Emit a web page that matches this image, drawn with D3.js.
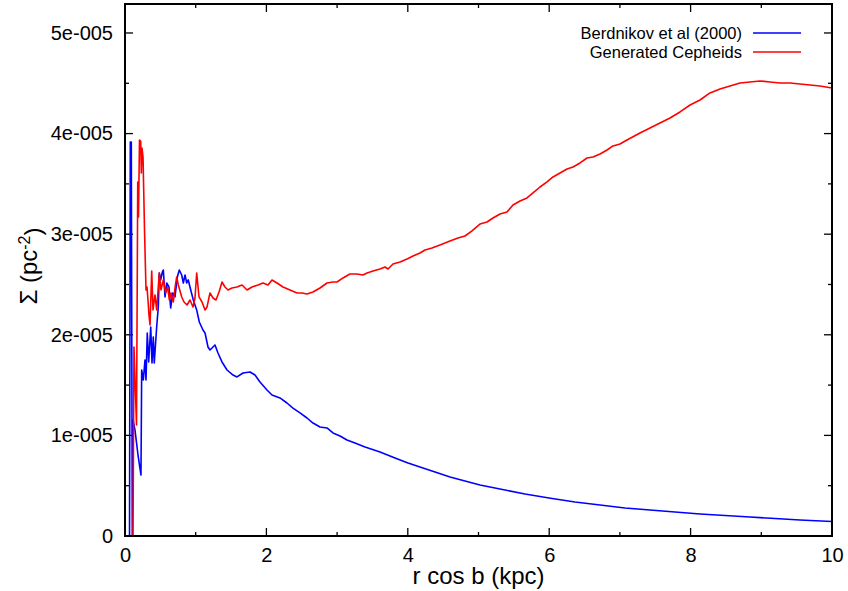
<!DOCTYPE html>
<html>
<head>
<meta charset="utf-8">
<script src="https://cdn.jsdelivr.net/npm/d3@7"></script>
<style>
    body { margin: 0; background: #fff; }
    text { font-family: "Liberation Sans", Arial, sans-serif; fill: #000; }
</style>
</head>
<body>
<div id="chart-area"></div>
<script>

// surface density values are in units of 1e-5 pc^-2
var yUnit = 1e-5;

var berdnikovX = [0.064, 0.075, 0.089, 0.103, 0.113, 0.141, 0.184, 0.226, 0.236, 0.259, 0.283, 0.297, 0.315, 0.335,
    0.364, 0.382, 0.400, 0.414, 0.448, 0.471, 0.485, 0.505, 0.528, 0.542, 0.566, 0.590, 0.622, 0.646, 0.675, 0.707,
    0.740, 0.768, 0.802, 0.825, 0.849, 0.873, 0.895, 0.919, 0.966, 1.014, 1.051, 1.103, 1.132, 1.174, 1.202, 1.231,
    1.273, 1.315, 1.372, 1.443, 1.528, 1.584, 1.669, 1.768, 1.839, 1.909, 2.008, 2.079, 2.192, 2.291, 2.376, 2.475,
    2.574, 2.659, 2.758, 2.857, 2.942, 3.041, 3.140, 3.253, 3.395, 3.607, 3.819, 4.003, 4.172, 4.385, 4.597, 4.809,
    5.021, 5.304, 5.658, 5.997, 6.365, 6.719, 7.072, 7.426, 7.779, 8.133, 8.487, 8.840, 9.194, 9.547, 10.0];
var berdnikovY = [0, 3.917, 3.917, 0, 1.153, 1.054, 0.805, 0.606, 1.650, 1.551, 1.750, 1.551, 2.018, 1.730,
    2.078, 1.720, 1.978, 1.720, 2.078, 2.276, 2.614, 2.545, 2.624, 2.644, 2.376, 2.515, 2.475, 2.266, 2.416, 2.376,
    2.575, 2.644, 2.594, 2.515, 2.594, 2.515, 2.545, 2.475, 2.346, 2.247, 2.127, 2.048, 2.018, 1.879, 1.849, 1.869,
    1.899, 1.819, 1.730, 1.650, 1.600, 1.581, 1.620, 1.630, 1.600, 1.531, 1.451, 1.402, 1.372, 1.322, 1.272, 1.223,
    1.173, 1.123, 1.084, 1.074, 1.024, 0.994, 0.954, 0.924, 0.885, 0.835, 0.775, 0.726, 0.686, 0.636, 0.586, 0.547,
    0.507, 0.467, 0.417, 0.378, 0.338, 0.308, 0.278, 0.258, 0.239, 0.219, 0.204, 0.189, 0.174, 0.159, 0.144];

var generatedX = [0.113, 0.127, 0.163, 0.180, 0.191, 0.205, 0.222, 0.231, 0.240, 0.255, 0.276, 0.297, 0.311, 0.325,
    0.339, 0.354, 0.378, 0.396, 0.424, 0.448, 0.485, 0.509, 0.542, 0.576, 0.604, 0.627, 0.651, 0.683, 0.707, 0.731,
    0.754, 0.802, 0.835, 0.877, 0.919, 0.962, 0.990, 1.014, 1.047, 1.089, 1.132, 1.160, 1.202, 1.245, 1.287, 1.330,
    1.372, 1.414, 1.457, 1.513, 1.584, 1.655, 1.726, 1.796, 1.881, 1.952, 2.023, 2.079, 2.150, 2.235, 2.334, 2.433,
    2.504, 2.574, 2.659, 2.758, 2.857, 2.942, 2.999, 3.083, 3.182, 3.281, 3.366, 3.423, 3.508, 3.607, 3.678, 3.720,
    3.791, 3.890, 3.989, 4.074, 4.172, 4.243, 4.342, 4.455, 4.597, 4.710, 4.809, 4.908, 5.021, 5.120, 5.205, 5.304,
    5.403, 5.488, 5.587, 5.686, 5.771, 5.870, 5.969, 6.054, 6.153, 6.252, 6.337, 6.436, 6.535, 6.620, 6.719, 6.818,
    6.902, 7.001, 7.100, 7.284, 7.426, 7.567, 7.709, 7.850, 7.992, 8.133, 8.274, 8.416, 8.557, 8.699, 8.840, 8.982,
    9.123, 9.265, 9.406, 9.547, 9.689, 9.830, 10.0];
var generatedY = [0, 1.879, 1.103, 3.519, 3.171, 3.936, 3.926, 3.608, 3.857, 3.767, 3.042, 2.445, 2.475, 2.346,
    2.197, 2.097, 2.634, 2.247, 2.396, 2.247, 2.614, 2.445, 2.545, 2.416, 2.475, 2.346, 2.416, 2.326, 2.465, 2.575,
    2.495, 2.376, 2.326, 2.296, 2.346, 2.276, 2.366, 2.614, 2.376, 2.326, 2.247, 2.276, 2.416, 2.366, 2.346, 2.425,
    2.525, 2.475, 2.445, 2.465, 2.475, 2.495, 2.445, 2.475, 2.495, 2.515, 2.495, 2.545, 2.515, 2.475, 2.445, 2.416,
    2.416, 2.406, 2.425, 2.465, 2.515, 2.525, 2.525, 2.565, 2.604, 2.604, 2.594, 2.614, 2.634, 2.654, 2.674, 2.654,
    2.704, 2.724, 2.753, 2.783, 2.813, 2.843, 2.863, 2.893, 2.932, 2.962, 2.982, 3.032, 3.101, 3.121, 3.161, 3.201,
    3.221, 3.290, 3.330, 3.360, 3.410, 3.469, 3.519, 3.569, 3.608, 3.648, 3.668, 3.708, 3.757, 3.767, 3.797, 3.837,
    3.877, 3.897, 3.936, 4.006, 4.056, 4.105, 4.155, 4.215, 4.284, 4.334, 4.404, 4.443, 4.473, 4.503, 4.513, 4.523,
    4.513, 4.503, 4.503, 4.493, 4.483, 4.473, 4.453];

var xTicks = [0, 2, 4, 6, 8, 10];
var xTickLabels = ["0", "2", "4", "6", "8", "10"];
var xMinorTicks = [1, 3, 5, 7, 9];
var yTicks = [0, 1e-5, 2e-5, 3e-5, 4e-5, 5e-5];
var yTickLabels = ["0", "1e-005", "2e-005", "3e-005", "4e-005", "5e-005"];
var yMinorTicks = [0.5e-5, 1.5e-5, 2.5e-5, 3.5e-5, 4.5e-5];

var seriesNames = ["Berdnikov et al (2000)", "Generated Cepheids"];
var seriesColors = ["#0000ff", "#ff0000"];

var margin = {top: 4, right: 16, bottom: 55, left: 125};
var width = 848 - margin.left - margin.right;
var height = 591 - margin.top - margin.bottom;

var svg = d3.select("#chart-area").append("svg")
    .attr("width", 848)
    .attr("height", 591)
    .append("g")
    .attr("transform", "translate(" + margin.left + "," + margin.top + ")");

var x = d3.scaleLinear().domain([0, 10]).range([0, width]);
var y = d3.scaleLinear().domain([0, 5.288e-5]).range([height, 0]);

svg.append("clipPath").attr("id", "clip")
    .append("rect").attr("width", width).attr("height", height);

// ticks point inwards on all four sides
function tickMarks(vals, len) {
    var g = svg.append("g").attr("stroke", "#000").attr("stroke-width", 1.3);
    vals.forEach(function(v) {
        g.append("line").attr("x1", x(v)).attr("x2", x(v)).attr("y1", height).attr("y2", height - len);
        g.append("line").attr("x1", x(v)).attr("x2", x(v)).attr("y1", 0).attr("y2", len);
    });
}
function yTickMarks(vals, len) {
    var g = svg.append("g").attr("stroke", "#000").attr("stroke-width", 1.3);
    vals.forEach(function(v) {
        g.append("line").attr("y1", y(v)).attr("y2", y(v)).attr("x1", 0).attr("x2", len);
        g.append("line").attr("y1", y(v)).attr("y2", y(v)).attr("x1", width).attr("x2", width - len);
    });
}
tickMarks(xTicks, 8);
tickMarks(xMinorTicks, 4);
yTickMarks(yTicks, 8);
yTickMarks(yMinorTicks, 4);

var xAxis = d3.axisBottom(x).tickValues(xTicks).tickSize(0).tickPadding(12)
    .tickFormat(function(d, i) { return xTickLabels[i]; });
svg.append("g").attr("class", "x-axis")
    .attr("transform", "translate(0," + height + ")")
    .call(xAxis)
    .call(function(g) { g.select(".domain").remove(); })
    .selectAll("text").style("font-size", "20px").style("font-family", "Liberation Sans");

var yAxis = d3.axisLeft(y).tickValues(yTicks).tickSize(0).tickPadding(12)
    .tickFormat(function(d, i) { return yTickLabels[i]; });
svg.append("g").attr("class", "y-axis")
    .call(yAxis)
    .call(function(g) { g.select(".domain").remove(); })
    .selectAll("text").style("font-size", "20px").style("font-family", "Liberation Sans");

var line = d3.line()
    .x(function(d) { return x(d[0]); })
    .y(function(d) { return y(d[1] * yUnit); });

var series = [
    d3.zip(berdnikovX, berdnikovY),
    d3.zip(generatedX, generatedY)
];

svg.append("g").attr("clip-path", "url(#clip)")
    .selectAll("path.curve")
    .data(series)
    .enter().append("path")
    .attr("class", "curve")
    .attr("fill", "none")
    .attr("stroke", function(d, i) { return seriesColors[i]; })
    .attr("stroke-width", 1.6)
    .attr("stroke-linejoin", "round")
    .attr("d", line);

// border
svg.append("rect")
    .attr("width", width).attr("height", height)
    .attr("fill", "none").attr("stroke", "#000").attr("stroke-width", 2);

// legend
var legend = svg.selectAll("g.legend")
    .data(seriesNames)
    .enter().append("g")
    .attr("class", "legend")
    .attr("transform", function(d, i) { return "translate(0," + (29 + i * 19) + ")"; });

legend.append("text")
    .attr("x", 617)
    .attr("dy", "0.35em")
    .attr("text-anchor", "end")
    .style("font-size", "16.5px")
    .text(function(d) { return d; });

legend.append("line")
    .attr("x1", 628).attr("x2", 676)
    .attr("stroke", function(d, i) { return seriesColors[i]; })
    .attr("stroke-width", 1.6);

// axis titles
svg.append("text")
    .attr("x", width / 2)
    .attr("y", height + 48)
    .attr("text-anchor", "middle")
    .style("font-size", "24px")
    .text("r cos b (kpc)");

var yTitle = svg.append("text")
    .attr("transform", "translate(" + (37 - margin.left) + "," + (266 - margin.top) + ") rotate(-90)")
    .attr("text-anchor", "middle")
    .style("font-size", "24px");
yTitle.append("tspan").text("Σ (pc");
yTitle.append("tspan").attr("dy", "-0.45em").style("font-size", "16px").text("-2");
yTitle.append("tspan").attr("dy", "0.45em").text(")");

</script>
</body>
</html>
